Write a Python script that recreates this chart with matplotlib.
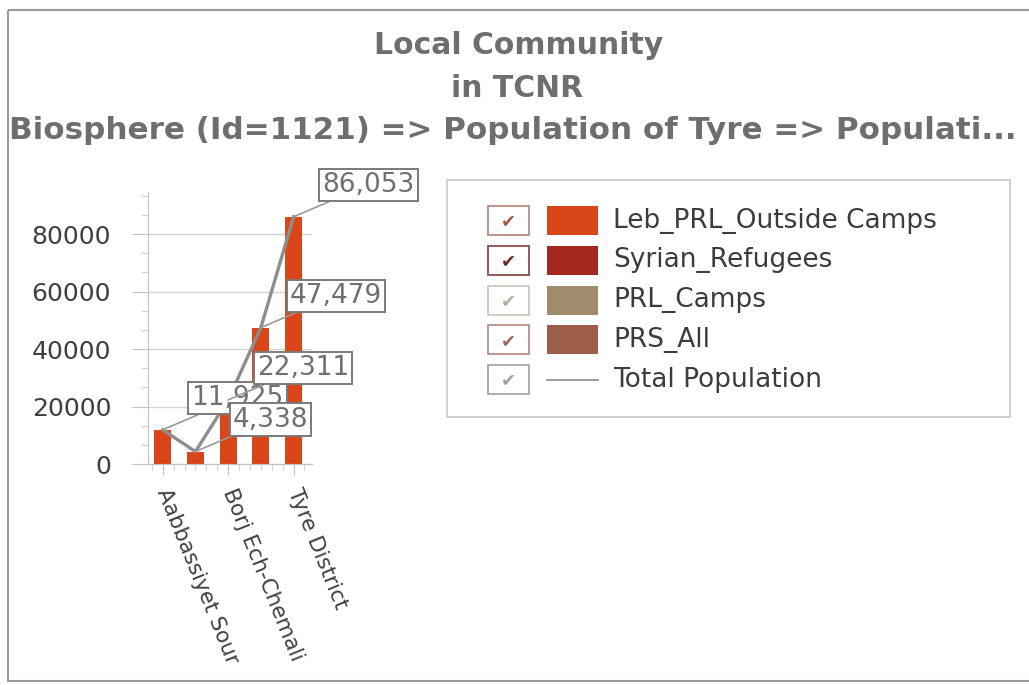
import matplotlib.pyplot as plt
from matplotlib.patches import Rectangle
from matplotlib.ticker import MultipleLocator, FixedLocator, FixedFormatter

# data
places = ["Aabbassiyet Sour", "", "Borj Ech-Chemali", "", "Tyre District"]
total_population = [11925, 4338, 22311, 47479, 86053]
series_names = ["Leb_PRL_Outside Camps", "Syrian_Refugees", "PRL_Camps", "PRS_All"]
series_colors = ["#d8461a", "#a4281f", "#a08c6c", "#9c5e4a"]
check_colors = ["#a85446", "#6e2424", "#b8ab9c", "#9a6a5c", "#a0a0a0"]
box_colors = ["#b88c84", "#8c4c4c", "#d0c8c0", "#b89088", "#a8a8a8"]

title_lines = ["Local Community", "in TCNR",
               "Biosphere (Id=1121) => Population of Tyre => Populati..."]

fig = plt.figure(figsize=(10.29, 6.85), dpi=100)

# overlay in pixel coordinates for frame, title and legend
ov = fig.add_axes([0, 0, 1, 1])
ov.set_xlim(0, 1029)
ov.set_ylim(685, 0)
ov.axis("off")
ov.add_patch(Rectangle((8, 10), 1030, 671, fill=False, ec="#9a9a9a", lw=1.5))

tfont = dict(family="DejaVu Sans", weight="bold", color="#6e6e6e",
             ha="center", va="center")
ov.text(519, 45, title_lines[0], fontsize=21.5, **tfont)
ov.text(517, 88, title_lines[1], fontsize=21.5, **tfont)
ov.text(513, 130, title_lines[2], fontsize=22.3, **tfont)

# legend
ov.add_patch(Rectangle((447, 180), 563, 237, fill=False, ec="#c8c8c8", lw=1.2))
labels = series_names + ["Total Population"]
for i, lab in enumerate(labels):
    y = 220.5 + i * 39.8
    ov.add_patch(Rectangle((488, y - 14.5), 41, 29, fc="white", ec=box_colors[i], lw=1.3))
    ov.text(508, y + 1, "\u2714", fontsize=13, color=check_colors[i],
            ha="center", va="center", family="DejaVu Sans")
    if i < len(series_names):
        ov.add_patch(Rectangle((547, y - 14.5), 51, 29, fc=series_colors[i], ec="none"))
    else:
        ov.plot([547, 598], [y, y], color="#8a8a8a", lw=1.2)
    ov.text(613, y, lab, fontsize=19, color="#3c3c3c", ha="left", va="center")

# chart
ax = fig.add_axes([0.1438, 0.3226, 0.159, 0.397])
x = list(range(len(places)))
ax.bar(x, total_population, width=0.52, color=series_colors[0], zorder=2)
ax.plot(x, total_population, color="#8e8e8e", lw=2.4, zorder=3)

ax.set_xlim(-0.45, 4.55)
ax.set_ylim(0, max(total_population) * 1.1)
ax.yaxis.set_major_locator(MultipleLocator(20000))
ax.yaxis.set_minor_locator(MultipleLocator(20000 / 3))
ax.grid(axis="y", color="#d4d4d4", lw=1, zorder=0)
ax.set_axisbelow(True)
for s in ["top", "right"]:
    ax.spines[s].set_visible(False)
ax.spines["left"].set_color("#c0c0c0")
ax.spines["bottom"].set_color("#c0c0c0")
ax.tick_params(axis="y", which="major", length=11.5, color="#c0c0c0", labelsize=18,
               labelcolor="#404040", pad=15)
ax.tick_params(axis="y", which="minor", length=5, color="#c8c8c8")

ax.xaxis.set_major_locator(FixedLocator([0, 2, 4]))
ax.xaxis.set_major_formatter(FixedFormatter([places[0], places[2], places[4]]))
ax.xaxis.set_minor_locator(MultipleLocator(1 / 3))
ax.tick_params(axis="x", which="major", length=8, color="#c0c0c0",
               labelcolor="#404040", pad=10)
ax.tick_params(axis="x", which="minor", length=4, color="#c8c8c8")
for t in ax.get_xticklabels():
    t.set_rotation(-68)
    t.set_rotation_mode("anchor")
    t.set_ha("left")
    t.set_va("center")
    t.set_fontsize(15.5)

for i, v in enumerate(total_population):
    ax.annotate(f"{v:,}", xy=(i, v), xytext=(54, 23), textcoords="offset points",
                ha="center", va="center", fontsize=19, color="#707070",
                bbox=dict(boxstyle="square,pad=0.12", fc="white", ec="#7a7a7a", lw=1.4),
                arrowprops=dict(arrowstyle="-", color="#9a9a9a", lw=1.2,
                                shrinkA=0, shrinkB=0),
                zorder=5 + i, annotation_clip=False)

fig.savefig("out.png", dpi=100)
